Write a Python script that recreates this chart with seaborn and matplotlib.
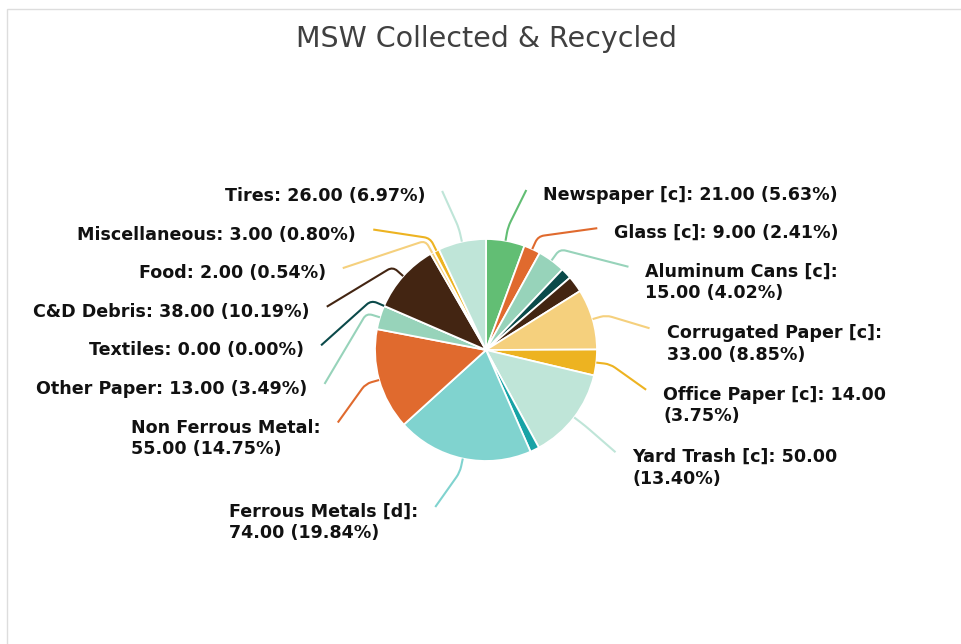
import numpy as np
import matplotlib
matplotlib.use('Agg')
import matplotlib.pyplot as plt
from matplotlib.path import Path
from matplotlib.patches import PathPatch, Rectangle
import seaborn as sns

# --- Data (clockwise from 12 o'clock) ---
CATEGORIES = ['Newspaper [c]', 'Glass [c]', 'Aluminum Cans [c]', '', '',
              'Corrugated Paper [c]', 'Office Paper [c]', 'Yard Trash [c]', '',
              'Ferrous Metals [d]', 'Non Ferrous Metal', 'Other Paper', 'Textiles',
              'C&D Debris', 'Food', 'Miscellaneous', 'Tires']
VALUES = [21, 9, 15, 6, 9, 33, 14, 50, 5, 74, 55, 13, 0, 38, 2, 3, 26]
COLORS = ['#62BE74', '#E06A2E', '#97D3BA', '#0B4A4A', '#432512', '#F5D07D',
          '#EDB321', '#BFE5D8', '#17A3A6', '#80D3CF', '#E06A2E', '#97D3BA',
          '#0B4A4A', '#432512', '#F5D07D', '#EDB321', '#BFE5D8']
# where a long label is broken: after the name, before the percent, or not at all
WRAP = [None, None, 'name', None, None, 'name', 'pct', 'pct', None,
        'name', 'name', None, None, None, None, None, None]

sns.set_theme(style='white')
plt.rcParams['font.family'] = ['DejaVu Sans']
FONT = 'DejaVu Sans'

W, H = 962, 644
fig = plt.figure(figsize=(W / 100, H / 100), dpi=100)
ax = fig.add_axes([0, 0, 1, 1])

fig.patches.append(Rectangle((7 / W, -0.1), 1.2, 1.1 - 9 / H, transform=fig.transFigure,
                             fill=False, edgecolor='#dddddd', linewidth=1))

CX, CY, R = 486, H - 350, 111
ax.pie(VALUES, colors=COLORS, startangle=90, counterclock=False, center=(CX, CY),
       radius=R, frame=True,
       wedgeprops=dict(edgecolor='white', linewidth=1.3))
ax.set_xlim(0, W)
ax.set_ylim(0, H)
ax.set_aspect('equal')
ax.axis('off')

fig.text(0.506, 1 - 39 / H, 'MSW Collected & Recycled', ha='center', va='center',
         fontsize=20.5, color='#404040', family=FONT)

# --- Labels ---
total = sum(VALUES)
cum = np.cumsum([0] + VALUES)
mid = (cum[:-1] + cum[1:]) / 2 / total * 360
theta = np.deg2rad(90 - mid)
R_END = 165
GAP1, GAP2 = 38.6, 61.5

labels = []
for i, (name, v) in enumerate(zip(CATEGORIES, VALUES)):
    if not name:
        continue
    pct = v / total * 100
    if WRAP[i] == 'name':
        txt = f'{name}:\n{v:.2f} ({pct:.2f}%)'
    elif WRAP[i] == 'pct':
        txt = f'{name}: {v:.2f}\n({pct:.2f}%)'
    else:
        txt = f'{name}: {v:.2f} ({pct:.2f}%)'
    labels.append(dict(i=i, txt=txt, th=theta[i], right=np.cos(theta[i]) >= 0,
                       y=CY + R_END * np.sin(theta[i]), two='\n' in txt))

for side in (True, False):
    grp = sorted([l for l in labels if l['right'] == side], key=lambda l: -l['y'])
    prev = None
    for l in grp:
        if prev is not None:
            l['y'] = min(l['y'], prev['y'] - (GAP2 if prev['two'] else GAP1))
        prev = l

for l in labels:
    i, th = l['i'], l['th']
    ey = float(np.clip(l['y'] - 2, CY - 157, CY + 160))
    dx = np.sqrt(max(R_END ** 2 - (ey - CY) ** 2, 0))
    ex = CX + dx if l['right'] else CX - dx
    p0 = np.array([CX + R * np.cos(th), CY + R * np.sin(th)])
    el = np.array([CX + (R + 14) * np.cos(th), CY + (R + 14) * np.sin(th)])
    end = np.array([ex, ey])
    d_out = (el - p0) / np.linalg.norm(el - p0)
    d_end = end - el
    d_end = d_end / max(np.linalg.norm(d_end), 1e-6)
    a = el - 6 * d_out
    b = el + 6 * d_end
    path = Path([p0, a, el, b, end],
                [Path.MOVETO, Path.LINETO, Path.CURVE3, Path.CURVE3, Path.LINETO])
    ax.add_patch(PathPatch(path, facecolor='none', edgecolor=COLORS[i], linewidth=1.5))
    tx = ex + 17 if l['right'] else ex - 17
    ax.text(tx, ey - 4 + 8, l['txt'], ha='left' if l['right'] else 'right', va='top',
            multialignment='left', fontsize=12.6, fontweight='bold', color='#111111',
            family=FONT, linespacing=1.25)

fig.savefig('out.png', dpi=100, facecolor='white')
